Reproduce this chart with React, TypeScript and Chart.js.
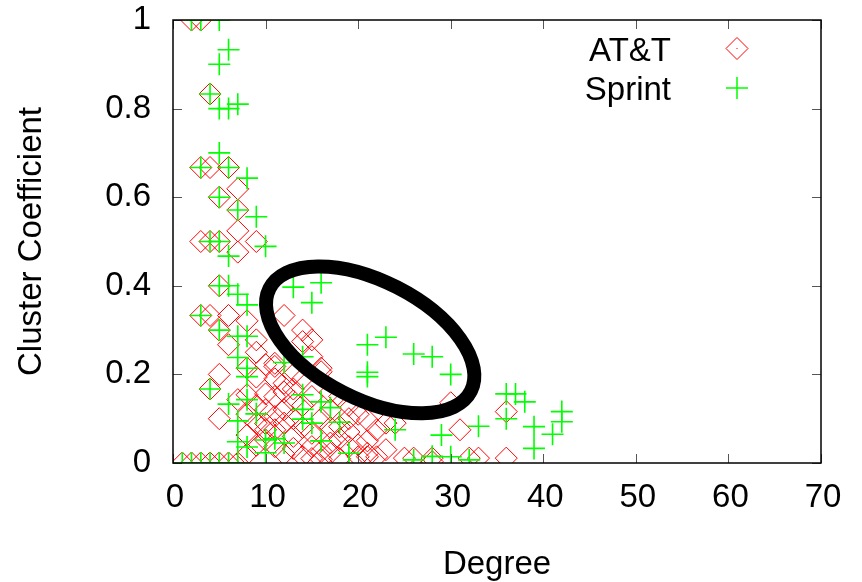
import React, { useEffect, useRef } from "react";
import { Chart, registerables } from "chart.js";

Chart.register(...registerables);

const FONT = "'Liberation Sans', Arial, Helvetica, sans-serif";

// ---- data ----
const seriesNames = ["AT&T", "Sprint"];
const seriesColors = ["#ff0000", "#00ff00"];

const xTickValues = [0, 10, 20, 30, 40, 50, 60, 70];
const yTickValues = [0, 0.2, 0.4, 0.6, 0.8, 1];
const yTickLabels = ["0", "0.2", "0.4", "0.6", "0.8", "1"];

const attDegree = [
  2, 3, 4, 3, 4, 6, 7, 5, 7, 7, 3, 4, 5, 9, 7, 5, 3, 4, 6, 12,
  8, 5, 14, 9, 15, 14, 6, 9, 15, 11, 10, 8, 11, 16, 16, 5, 9, 11, 13, 12,
  14, 4, 13, 12, 10, 8, 15, 11, 7, 13, 17, 18, 30, 14, 9, 19, 17, 12, 10, 36,
  8, 20, 11, 5, 13, 16, 19, 21, 9, 10, 12, 23, 24, 18, 17, 14, 10, 11, 22, 31,
  19, 15, 8, 13, 18, 10, 21, 17, 20, 9, 11, 15, 19, 13, 23, 16, 17, 21, 8, 12,
  14, 20, 21, 22, 15, 18, 16, 25, 26, 28, 28, 32, 33, 36, 1, 2, 3, 4, 5, 6, 7,
];
const attCluster = [
  1, 1, 0.833, 0.667, 0.667, 0.667, 0.619, 0.6, 0.571, 0.524, 0.5, 0.5, 0.5, 0.5, 0.476, 0.4, 0.333, 0.333, 0.333, 0.333,
  0.321, 0.3, 0.3, 0.278, 0.278, 0.274, 0.267, 0.25, 0.24, 0.225, 0.222, 0.214, 0.218, 0.214, 0.206, 0.2, 0.194, 0.19, 0.2, 0.18,
  0.19, 0.167, 0.167, 0.16, 0.156, 0.154, 0.15, 0.15, 0.143, 0.14, 0.16, 0.15, 0.136, 0.13, 0.13, 0.13, 0.12, 0.12, 0.12, 0.116,
  0.11, 0.11, 0.105, 0.1, 0.1, 0.1, 0.1, 0.097, 0.09, 0.089, 0.09, 0.09, 0.09, 0.082, 0.08, 0.08, 0.075, 0.075, 0.075, 0.075,
  0.07, 0.067, 0.063, 0.06, 0.055, 0.052, 0.05, 0.045, 0.041, 0.04, 0.037, 0.037, 0.037, 0.033, 0.03, 0.026, 0.022, 0.022, 0.02, 0.02,
  0.015, 0.014, 0.014, 0.014, 0.01, 0.01, 0.008, 0.011, 0.011, 0.011, 0.003, 0.011, 0.011, 0.011, 0, 0, 0, 0, 0, 0, 0,
];

const sprintDegree = [
  2, 3, 5, 6, 5, 4, 5, 6, 7, 5, 3, 6, 8, 5, 7, 9, 4, 5, 10, 6,
  5, 6, 7, 8, 13, 16, 15, 3, 5, 7, 8, 21, 23, 26, 28, 30, 21, 21, 7, 12,
  14, 8, 8, 4, 8, 14, 16, 6, 36, 37, 38, 14, 17, 9, 36, 42, 42, 7, 14, 15,
  18, 33, 24, 39, 29, 41, 11, 12, 7, 10, 16, 8, 39, 19, 26, 28, 30, 32, 10, 1,
  2, 3, 4, 5, 6, 7,
];
const sprintCluster = [
  1, 1, 1, 0.933, 0.9, 0.833, 0.8, 0.8, 0.81, 0.7, 0.667, 0.667, 0.643, 0.6, 0.571, 0.556, 0.5, 0.5, 0.489, 0.467,
  0.4, 0.4, 0.381, 0.357, 0.397, 0.407, 0.362, 0.333, 0.3, 0.286, 0.286, 0.267, 0.284, 0.246, 0.24, 0.2, 0.195, 0.205, 0.238, 0.227,
  0.24, 0.214, 0.195, 0.167, 0.143, 0.154, 0.138, 0.133, 0.156, 0.156, 0.138, 0.121, 0.125, 0.111, 0.1, 0.116, 0.093, 0.095, 0.099, 0.09,
  0.092, 0.083, 0.075, 0.082, 0.063, 0.065, 0.055, 0.045, 0.048, 0.052, 0.05, 0.036, 0.033, 0.022, 0.007, 0.015, 0.014, 0.007, 0.023, 0,
  0, 0, 0, 0, 0, 0,
];

// highlighted region (annotation): centre in data units
const ellipseCenterDegree = 21.3;
const ellipseCenterCluster = 0.278;

// ---- layout / style constants ----
const W = 862;
const H = 582;
const AREA_LEFT = 173;
const AREA_TOP = 20;
const AREA_RIGHT = 821;
const AREA_BOTTOM = 463;
const ELL_RX = 113;
const ELL_RY = 59;
const ELL_ANGLE = (27 * Math.PI) / 180;
const ELL_WIDTH = 14;
const MARK_R = 11;

function toPoints(xs: number[], ys: number[]) {
  return xs.map((x, i) => ({ x, y: ys[i] }));
}

function drawDiamond(ctx: CanvasRenderingContext2D, x: number, y: number, r: number, color: string) {
  ctx.beginPath();
  ctx.moveTo(x - r, y);
  ctx.lineTo(x, y - r);
  ctx.lineTo(x + r, y);
  ctx.lineTo(x, y + r);
  ctx.closePath();
  ctx.strokeStyle = color;
  ctx.lineWidth = 1;
  ctx.stroke();
  ctx.fillStyle = color;
  ctx.fillRect(x - 0.5, y - 0.5, 1, 1);
}

function drawPlus(ctx: CanvasRenderingContext2D, x: number, y: number, r: number, color: string) {
  ctx.beginPath();
  ctx.moveTo(x - r, y);
  ctx.lineTo(x + r, y);
  ctx.moveTo(x, y - r);
  ctx.lineTo(x, y + r);
  ctx.strokeStyle = color;
  ctx.lineWidth = 1.5;
  ctx.stroke();
}

const overlayPlugin = {
  id: "gnuplotOverlay",
  afterDatasetsDraw(chart: any) {
    const { ctx, chartArea: a, scales } = chart;
    const xs = scales.x;
    const ys = scales.y;
    ctx.save();

    // inward tick marks on all four sides
    ctx.strokeStyle = "#555";
    ctx.lineWidth = 1;
    const TL = 9;
    ctx.beginPath();
    for (const v of xTickValues) {
      const px = Math.round(xs.getPixelForValue(v)) + 0.5;
      ctx.moveTo(px, a.bottom);
      ctx.lineTo(px, a.bottom - TL);
      ctx.moveTo(px, a.top);
      ctx.lineTo(px, a.top + TL);
    }
    for (const v of yTickValues) {
      const py = Math.round(ys.getPixelForValue(v)) + 0.5;
      ctx.moveTo(a.left, py);
      ctx.lineTo(a.left + TL, py);
      ctx.moveTo(a.right, py);
      ctx.lineTo(a.right - TL, py);
    }
    ctx.stroke();

    // frame
    ctx.strokeStyle = "#000";
    ctx.lineWidth = 1.5;
    ctx.strokeRect(a.left, a.top, a.right - a.left, a.bottom - a.top);

    // highlight ellipse
    const cx = xs.getPixelForValue(ellipseCenterDegree);
    const cy = ys.getPixelForValue(ellipseCenterCluster);
    ctx.beginPath();
    ctx.ellipse(cx, cy, ELL_RX, ELL_RY, ELL_ANGLE, 0, Math.PI * 2);
    ctx.strokeStyle = "#000";
    ctx.lineWidth = ELL_WIDTH;
    ctx.stroke();

    // key (gnuplot style: text right-justified, sample to the right)
    const keyTextRight = 671;
    const keySampleX = 737;
    const rows = [
      { baseline: 61, mid: 48.5 },
      { baseline: 99.5, mid: 88 },
    ];
    chart.data.datasets.forEach((ds: any, i: number) => {
      const r = rows[i];
      ctx.font = `33px ${FONT}`;
      ctx.fillStyle = "#000";
      ctx.textAlign = "right";
      ctx.textBaseline = "alphabetic";
      ctx.fillText(ds.label, keyTextRight, r.baseline);
      if (i === 0) drawDiamond(ctx, keySampleX, r.mid, MARK_R, ds.borderColor);
      else drawPlus(ctx, keySampleX, r.mid, MARK_R, ds.borderColor);
    });

    ctx.restore();
  },
};

export default function App() {
  const ref = useRef<HTMLCanvasElement | null>(null);

  useEffect(() => {
    const canvas = ref.current;
    if (!canvas) return;
    const chart = new Chart(canvas, {
      type: "scatter",
      data: {
        datasets: [
          {
            label: seriesNames[0],
            data: toPoints(attDegree, attCluster),
            pointStyle: "rectRot",
            pointRadius: MARK_R,
            borderColor: seriesColors[0],
            backgroundColor: "rgba(0,0,0,0)",
            borderWidth: 1,
            order: 2,
          },
          {
            label: seriesNames[1],
            data: toPoints(sprintDegree, sprintCluster),
            pointStyle: "cross",
            pointRadius: MARK_R,
            borderColor: seriesColors[1],
            backgroundColor: seriesColors[1],
            borderWidth: 1.6,
            order: 1,
          },
        ],
      },
      options: {
        responsive: false,
        animation: false,
        devicePixelRatio: 1,
        events: [],
        layout: { padding: { top: AREA_TOP, right: W - AREA_RIGHT, left: 0, bottom: 0 } },
        plugins: {
          legend: { display: false },
          tooltip: { enabled: false },
        },
        scales: {
          x: {
            type: "linear",
            position: "bottom",
            min: 0,
            max: 70,
            grid: { display: false, drawTicks: false },
            border: { display: false },
            ticks: {
              stepSize: 10,
              autoSkip: false,
              maxRotation: 0,
              padding: 15,
              labelOffset: 2,
              color: "#000",
              font: { family: FONT, size: 33 },
            },
            title: {
              display: true,
              text: "Degree",
              color: "#000",
              font: { family: FONT, size: 33 },
              padding: { top: 0, bottom: -3 },
            },
            afterFit: (s: any) => {
              s.height = H - AREA_BOTTOM;
              s.paddingLeft = 0;
              s.paddingRight = 0;
            },
          },
          y: {
            type: "linear",
            min: 0,
            max: 1,
            grid: { display: false, drawTicks: false },
            border: { display: false },
            ticks: {
              stepSize: 0.2,
              padding: 22,
              color: "#000",
              font: { family: FONT, size: 33 },
              callback: (v: any) => {
                const i = yTickValues.findIndex((t) => Math.abs(t - Number(v)) < 1e-6);
                return i >= 0 ? yTickLabels[i] : "";
              },
            },
            title: {
              display: true,
              text: "Cluster Coefficient",
              color: "#000",
              font: { family: FONT, size: 33 },
              padding: { top: 12, bottom: 0 },
            },
            afterFit: (s: any) => {
              s.width = AREA_LEFT;
              s.paddingTop = 0;
              s.paddingBottom = 0;
            },
          },
        },
      },
      plugins: [overlayPlugin],
    });
    return () => chart.destroy();
  }, []);

  return (
    <canvas
      ref={ref}
      width={W}
      height={H}
      style={{ position: "fixed", left: 0, top: 0, width: W, height: H, background: "#fff" }}
    />
  );
}
